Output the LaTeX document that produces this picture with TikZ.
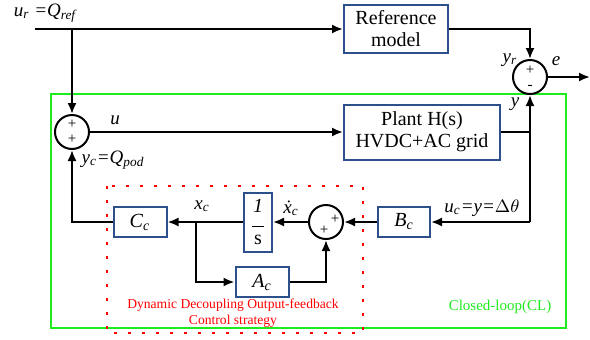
\documentclass[tikz,border=0pt]{standalone}
\usepackage{fontspec}
\setmainfont{Liberation Serif}
\usetikzlibrary{arrows.meta}
\definecolor{boxblue}{RGB}{45,80,140}
\definecolor{loopgreen}{RGB}{30,235,30}

\begin{document}
\begin{tikzpicture}[x=0.5pt, y=-0.5pt,
  block/.style={draw=boxblue, line width=1pt, fill=white, font=\fontsize{10}{11}\selectfont, align=center, inner sep=1pt},
  sumnode/.style={draw, circle, line width=1pt, minimum size=17pt, inner sep=0pt},
  sig/.style={font=\fontsize{7.5}{7.5}\selectfont, inner sep=0pt},
  lbl/.style={font=\fontsize{9.5}{10}\selectfont\itshape, inner sep=0pt},
  wire/.style={line width=1pt},
  flow/.style={wire, -{Latex[length=5.5pt, width=4.5pt]}}]

  \useasboundingbox (0,0) rectangle (590,339);

  % closed loop frame and decoupling controller frame
  \draw[loopgreen, line width=0.8pt] (51,94) rectangle (566,328);
  \draw[red, line width=1.3pt, dash pattern=on 1.3pt off 5.7pt] (107,186) rectangle (363,333);

  \node[block, minimum width=52pt, minimum height=24pt] (refm) at (396,29) {Reference\\model};
  \node[block, minimum width=78pt, minimum height=27.5pt] (plant) at (422,132) {Plant H(s)\\HVDC+AC grid};
  \node[block, minimum width=26pt, minimum height=15pt] (bc) at (404,222) {\textit{B\textsubscript{c}}};
  \node[block, minimum width=26.5pt, minimum height=15pt] (cc) at (140,222) {\textit{C\textsubscript{c}}};
  \node[block, minimum width=26.5pt, minimum height=15pt] (ac) at (262,282) {\textit{A\textsubscript{c}}};
  \node[block, minimum width=14pt, minimum height=29.5pt] (integ) at (258,222) {\textit{1}\\[-4pt]\rule{6pt}{0.5pt}\\[-2pt]s};

  \node[sumnode] (s1) at (72,132) {};
  \node[sumnode] (s2) at (530,77) {};
  \node[sumnode] (s3) at (326,222) {};

  \node[sig] (s1a) at (72,124) {+};
  \node[sig] (s1b) at (72,139) {+};
  \node[sig] (s2a) at (530,70) {+};
  \node[sig] (s2b) at (530,87) {-};
  \node[sig] (s3a) at (335,219) {+};
  \node[sig] (s3b) at (324,230) {+};

  \coordinate (in) at (35,29);
  \coordinate (br) at (72,29);
  \coordinate (out) at (590,77);
  \coordinate (py) at (530,132);
  \coordinate (pb) at (530,222);
  \coordinate (xb) at (196,222);

  \draw[wire] (in) -- (br);
  \draw[flow] (br) -- (refm.west);
  \draw[flow] (br) -- (s1);
  \draw[flow] (refm.east) -| (s2);
  \draw[flow] (s2) -- (out);
  \draw[flow] (s1) -- (plant.west);
  \draw[wire] (plant.east) -- (py);
  \draw[flow] (pb) -- (s2);
  \draw[flow] (pb) -- (bc.east);
  \draw[flow] (bc) -- (s3);
  \draw[flow] (s3) -- (integ);
  \draw[flow] (integ) -- (cc);
  \draw[flow] (xb) |- (ac);
  \draw[flow] (ac) -| (s3);
  \draw[flow] (cc) -| (s1);

  \node[lbl] (lur) at (45,13) {u\textsubscript{r} =Q\textsubscript{ref}};
  \node[lbl] (lu) at (115,120) {u};
  \node[lbl] (lyc) at (113,160) {y\textsubscript{c}=Q\textsubscript{pod}};
  \node[lbl] (lxc) at (202,206) {x\textsubscript{c}};
  \node[lbl] (ldx) at (291,208) {\.x\textsubscript{c}};
  \node[lbl] (luc) at (482,208) {u\textsubscript{c}=y=$\Delta\theta$};
  \node[lbl] (lyr) at (510,60) {y\textsubscript{r}};
  \node[lbl] (le) at (556,61) {e};
  \node[lbl] (ly) at (515,104) {y};

  \node[text=red, font=\fontsize{6.8}{7.8}\selectfont, align=center] (rtext) at (233,313) {Dynamic Decoupling Output-feedback\\Control strategy};
  \node[text=loopgreen, font=\fontsize{7.5}{8}\selectfont] (gtext) at (500,307) {Closed-loop(CL)};
\end{tikzpicture}
\end{document}
